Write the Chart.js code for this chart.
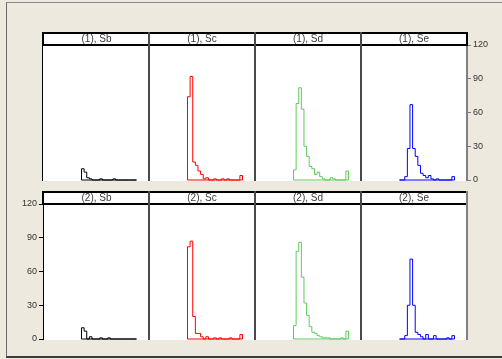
<!DOCTYPE html>
<html>
<head>
<meta charset="utf-8">
<script src="https://cdn.jsdelivr.net/npm/chart.js@4"></script>
<style>
  body { margin: 0; width: 502px; height: 359px; background: #EDE9DF; position: relative; overflow: hidden;
         font-family: "Liberation Sans Narrow", "Arial Narrow", "Liberation Sans", sans-serif; }
  #frame { position: absolute; left: 6px; top: 2px; width: 500px; height: 353px;
           border-top: 1px solid #8c8c8c; border-left: 1px solid #6a6a6a; border-bottom: 2px solid #3a3a3a; }
  .panel { position: absolute; background: #fff; }
  .strip { position: absolute; z-index: 3; box-sizing: border-box; height: 14px; border-top: 2px solid #000; border-bottom: 2px solid #000;
           font-size: 10px; color: #3a3a3a; text-align: center; line-height: 10px; }
  .vline { position: absolute; z-index: 3; width: 2px; }
  canvas { position: absolute; z-index: 1; }
</style>
</head>
<body>
<div id="frame"></div>
<script>
// lattice layout: rows are groups, columns are variables
const groups = ['(1)', '(2)'];
const vars = ['Sb', 'Sc', 'Sd', 'Se'];
const colors = ['#000000', '#FF0000', '#5FC95F', '#0000FF'];

// histogram counts, 21 bins per panel (row 1)
const sb1 = [10, 7, 2, 1, 0, 0, 0, 1, 0, 0, 0, 0, 1, 0, 0, 0, 0, 0, 0, 0, 0];
const sc1 = [74, 92, 16, 13, 8, 5, 1, 2, 0, 0, 1, 0, 0, 1, 0, 1, 0, 0, 0, 0, 4];
const sd1 = [9, 68, 82, 63, 30, 21, 12, 10, 5, 7, 3, 1, 0, 0, 2, 1, 0, 0, 0, 0, 8];
const se1 = [0, 0, 3, 28, 67, 28, 21, 13, 6, 4, 2, 4, 1, 0, 1, 0, 0, 0, 0, 0, 3];
// row 2
const sb2 = [10, 7, 0, 2, 0, 0, 0, 1, 0, 0, 1, 0, 0, 0, 0, 0, 0, 0, 0, 0, 0];
const sc2 = [82, 87, 20, 5, 5, 2, 0, 2, 0, 0, 1, 0, 1, 0, 0, 0, 1, 0, 0, 0, 4];
const sd2 = [12, 78, 86, 55, 32, 21, 11, 6, 5, 3, 2, 1, 1, 1, 0, 0, 0, 0, 1, 0, 7];
const se2 = [0, 0, 3, 30, 71, 30, 6, 4, 2, 0, 4, 0, 0, 3, 0, 0, 0, 0, 1, 0, 3];
const counts = [[sb1, sc1, sd1, se1], [sb2, sc2, sd2, se2]];

const yTicks = [0, 30, 60, 90, 120];
const xMin = -14.7, xMax = 25.77;   // bin axis range shared by every panel

const FONT = '"Liberation Sans Narrow", "Arial Narrow", "Liberation Sans", sans-serif';
const left0 = 43, cellW = 106, stripH = 12, plotH = 135;
const rowTop = [32, 191];
const padT = 8, padB = 8;

function addDiv(cls, css, text) {
    const d = document.createElement('div');
    d.className = cls;
    Object.assign(d.style, css);
    if (text) d.textContent = text;
    document.body.appendChild(d);
    return d;
}

function histPoints(c) {
    const pts = [{ x: 0, y: 0 }];
    c.forEach((v, i) => pts.push({ x: i, y: v }));
    pts.push({ x: c.length, y: 0 });
    pts.push({ x: 0, y: 0 });
    return pts;
}

function makeChart(r, c) {
    const plotTop = rowTop[r] + stripH + 1;
    let side = null, axisW = 0, canvasLeft = left0 + cellW * c;
    if (r === 0 && c === 3) { side = 'right'; axisW = 35; }
    if (r === 1 && c === 0) { side = 'left'; axisW = 43; canvasLeft -= axisW; }

    const cv = document.createElement('canvas');
    cv.width = cellW + axisW;
    cv.height = plotH + padT + padB;
    cv.style.left = canvasLeft + 'px';
    cv.style.top = (plotTop - padT) + 'px';
    document.body.appendChild(cv);

    new Chart(cv.getContext('2d'), {
        type: 'scatter',
        data: {
            datasets: [{
                data: histPoints(counts[r][c]),
                showLine: true,
                stepped: true,
                borderColor: colors[c],
                borderWidth: 1,
                pointRadius: 0,
                fill: false,
                clip: false
            }]
        },
        options: {
            responsive: false,
            animation: false,
            devicePixelRatio: 1,
            layout: { padding: { top: padT, bottom: padB, left: 0, right: 0 } },
            plugins: { legend: { display: false }, tooltip: { enabled: false } },
            scales: {
                x: { type: 'linear', min: xMin, max: xMax, display: false },
                y: {
                    type: 'linear',
                    min: 0,
                    max: 120,
                    display: side !== null,
                    position: side || 'left',
                    afterBuildTicks: s => { s.ticks = yTicks.map(v => ({ value: v })); },
                    afterFit: s => { s.width = axisW; },
                    ticks: { font: { size: 9, family: FONT }, color: '#333', padding: 2 },
                    grid: { drawOnChartArea: false, drawTicks: true, tickLength: 4, color: side === 'right' ? '#777' : '#000' },
                    border: { display: true, color: side === 'right' ? '#808080' : '#000', width: side === 'right' ? 2 : 1 }
                }
            }
        }
    });
}

rowTop.forEach((top, r) => {
    const h = stripH + 1 + plotH + 1;
    // white panel background
    addDiv('panel', { left: left0 + 'px', top: top + 'px', width: cellW * 4 + 'px', height: h + 'px' });
    for (let c = 0; c < 4; c++) {
        const x = left0 + cellW * c;
        addDiv('strip', {
            left: x + 'px', top: top + 'px', width: cellW + 'px',
            borderLeft: c === 0 ? '1px solid #000' : 'none'
        }, groups[r] + ', ' + vars[c]);
        makeChart(r, c);
        // panel dividers
        if (c > 0) {
            addDiv('vline', { left: (x - 1) + 'px', top: top + 'px', height: h + 'px', background: '#4a4a4a' });
        }
    }
    // outer edges
    if (r === 0) {
        addDiv('vline', { left: (left0 - 1) + 'px', top: top + 'px', width: '1px', height: h + 'px', background: '#000' });
        addDiv('vline', { left: (left0 + cellW * 4 - 1) + 'px', top: top + 'px', height: (stripH + 2) + 'px', background: '#000' });
    } else {
        addDiv('vline', { left: (left0 - 1) + 'px', top: top + 'px', width: '1px', height: (stripH + 2) + 'px', background: '#000' });
        addDiv('vline', { left: (left0 + cellW * 4 - 1) + 'px', top: top + 'px', height: h + 'px', background: '#808080' });
    }
});
</script>
</body>
</html>
